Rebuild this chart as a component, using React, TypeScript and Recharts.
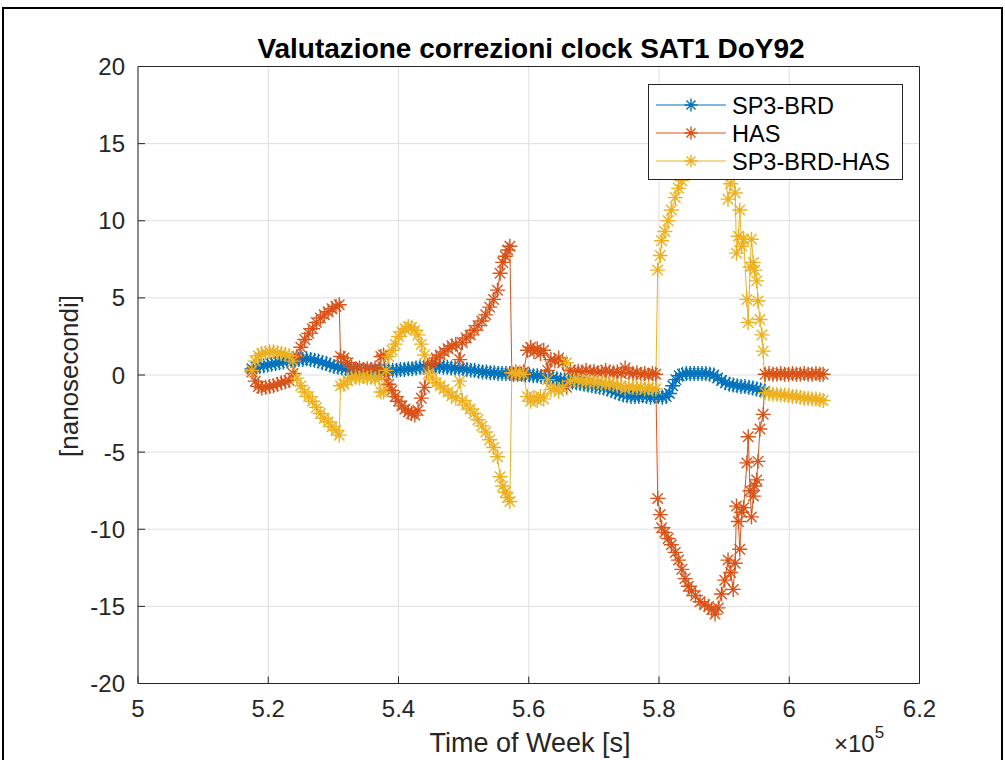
import React from 'react';
import { LineChart, Line, XAxis, YAxis, CartesianGrid, Legend } from 'recharts';

const TITLE = 'Valutazione correzioni clock SAT1 DoY92';
const X_LABEL = 'Time of Week [s]';
const Y_LABEL = '[nanosecondi]';
const X_TICKS = [500000, 520000, 540000, 560000, 580000, 600000, 620000];
const X_TICK_LABELS = ['5', '5.2', '5.4', '5.6', '5.8', '6', '6.2'];
const Y_TICKS = [-20, -15, -10, -5, 0, 5, 10, 15, 20];
const SERIES_NAMES = ['SP3-BRD', 'HAS', 'SP3-BRD-HAS'];
const COLORS = ['#0072BD', '#D95319', '#EDB120'];

// [time of week in thousands of seconds, nanoseconds]
const SP3_BRD: [number, number][] = [
  [517.5, 0.4], [518.1, 0.5], [518.7, 0.55], [519.3, 0.6], [519.9, 0.65], [520.5, 0.7], [521.1, 0.75], [521.7, 0.8],
  [522.3, 0.85], [522.9, 0.9], [523.5, 0.95], [524.1, 0.95], [524.7, 1.0], [525.3, 1.0], [525.9, 1.05], [526.5, 1.0],
  [527.1, 0.95], [527.7, 0.9], [528.3, 0.8], [528.9, 0.75], [529.5, 0.65], [530.1, 0.55], [530.7, 0.5], [531.3, 0.45],
  [531.9, 0.4], [532.5, 0.35], [533.1, 0.3], [533.7, 0.3], [534.3, 0.25], [534.9, 0.25], [535.5, 0.2], [536.1, 0.2],
  [536.7, 0.25], [537.3, 0.25], [537.9, 0.3], [538.5, 0.3], [539.1, 0.3], [539.7, 0.3], [540.3, 0.35], [540.9, 0.35],
  [541.5, 0.4], [542.1, 0.4], [542.7, 0.45], [543.3, 0.5], [543.9, 0.5], [544.5, 0.55], [545.1, 0.55], [545.7, 0.55],
  [546.3, 0.55], [546.9, 0.5], [547.5, 0.5], [548.1, 0.45], [548.7, 0.45], [549.3, 0.4], [549.9, 0.4], [550.5, 0.35],
  [551.1, 0.3], [551.7, 0.3], [552.3, 0.25], [552.9, 0.2], [553.5, 0.2], [554.1, 0.15], [554.7, 0.15], [555.3, 0.1],
  [555.9, 0.1], [556.5, 0.1], [557.1, 0.1], [557.7, 0.05], [558.3, 0.05], [558.9, 0.05], [559.5, 0.0], [560.1, 0.0],
  [560.7, -0.05], [561.3, -0.05], [561.9, -0.1], [562.5, -0.1], [563.1, -0.15], [563.7, -0.2], [564.3, -0.25], [564.9, -0.3],
  [565.5, -0.35], [566.1, -0.4], [566.7, -0.45], [567.3, -0.5], [567.9, -0.55], [568.5, -0.6], [569.1, -0.65], [569.7, -0.7],
  [570.3, -0.75], [570.9, -0.8], [571.5, -0.85], [572.1, -0.9], [572.7, -1.0], [573.3, -1.1], [573.9, -1.2], [574.5, -1.3],
  [575.1, -1.35], [575.7, -1.4], [576.3, -1.4], [576.9, -1.4], [577.5, -1.35], [578.1, -1.4], [578.7, -1.45], [579.3, -1.4],
  [579.9, -1.4], [580.5, -1.45], [581.1, -1.4], [581.6, -1.2], [582.1, -0.7], [582.6, -0.3], [583.1, -0.05], [583.6, 0.05],
  [584.2, 0.1], [584.8, 0.1], [585.4, 0.1], [586.0, 0.1], [586.6, 0.1], [587.2, 0.1], [587.8, 0.05], [588.4, 0.0],
  [589.0, -0.2], [589.6, -0.35], [590.2, -0.5], [590.8, -0.6], [591.4, -0.65], [592.0, -0.7], [592.6, -0.75], [593.2, -0.75],
  [593.8, -0.8], [594.4, -0.85], [595.0, -0.9], [595.6, -0.95], [596.2, -1.05],
];

const HAS: [number, number][] = [
  [517.5, 0.2], [518.0, -0.4], [518.5, -0.75], [519.0, -0.85], [519.6, -0.8], [520.2, -0.75], [520.8, -0.7], [521.4, -0.6],
  [522.0, -0.5], [522.6, -0.45], [523.2, -0.35], [523.8, 0.1], [524.4, 1.2], [525.0, 1.8], [525.6, 2.3], [526.2, 2.7],
  [526.8, 3.0], [527.4, 3.4], [528.0, 3.7], [528.6, 3.9], [529.2, 4.1], [529.8, 4.3], [530.4, 4.45], [530.9, 4.55],
  [531.1, 1.2], [531.6, 1.1], [532.2, 0.8], [532.8, 0.5], [533.4, 0.4], [534.0, 0.45], [534.6, 0.35], [535.2, 0.4],
  [535.8, 0.35], [536.4, 0.45], [537.0, 0.4], [537.3, 1.2], [537.7, 1.3], [538.1, 0.0], [538.5, -0.6], [539.0, -1.0],
  [539.5, -1.4], [540.0, -1.7], [540.5, -2.0], [541.0, -2.2], [541.5, -2.4], [542.0, -2.5], [542.5, -2.6], [543.0, -2.3],
  [543.5, -1.5], [544.0, -0.8], [544.6, 0.5], [545.2, 0.8], [545.8, 1.1], [546.4, 1.3], [547.0, 1.5], [547.6, 1.7],
  [548.2, 1.9], [548.8, 2.0], [549.4, 1.0], [549.8, 2.1], [550.4, 2.4], [551.0, 2.6], [551.6, 2.9], [552.2, 3.2],
  [552.8, 3.5], [553.4, 3.9], [554.0, 4.4], [554.6, 4.9], [555.2, 5.5], [555.6, 6.6], [556.0, 7.3], [556.4, 7.7],
  [556.8, 8.1], [557.1, 8.35], [557.4, 0.1], [558.0, 0.2], [558.6, 0.1], [559.2, 0.2], [559.8, 1.6], [560.3, 1.8],
  [560.8, 1.5], [561.3, 1.7], [561.8, 1.4], [562.3, 1.6], [562.9, 0.3], [563.4, 1.0], [564.0, 0.9], [564.6, 1.1],
  [565.2, 0.8], [565.8, -0.8], [566.4, 0.3], [567.0, 0.2], [567.6, 0.25], [568.2, 0.2], [568.8, 0.3], [569.4, 0.2],
  [570.0, 0.25], [570.6, 0.15], [571.2, 0.2], [571.8, 0.3], [572.4, 0.2], [573.0, 0.15], [573.6, 0.2], [574.2, 0.1],
  [574.8, 0.45], [575.4, 0.15], [576.0, 0.1], [576.6, 0.15], [577.2, 0.05], [577.8, 0.1], [578.4, 0.0], [579.0, 0.1],
  [579.5, 0.05], [579.8, -8.0], [580.2, -9.05], [580.4, -9.9], [580.9, -10.2], [581.4, -10.6], [581.9, -11.0], [582.5, -11.5],
  [583.0, -12.0], [583.5, -12.6], [584.0, -13.2], [584.5, -13.7], [585.0, -14.0], [585.6, -14.3], [586.3, -14.7], [587.0, -14.9],
  [587.6, -15.0], [588.1, -15.2], [588.6, -15.5], [589.1, -15.1], [589.6, -14.2], [590.1, -13.3], [590.6, -12.0], [591.0, -12.8],
  [591.4, -13.9], [591.7, -12.2], [591.9, -8.5], [592.2, -9.5], [592.4, -11.3], [592.7, -8.9], [593.0, -8.6], [593.5, -5.7],
  [593.7, -4.0], [594.0, -7.5], [594.2, -9.2], [594.5, -7.85], [594.7, -7.2], [595.0, -6.8], [595.2, -5.6], [595.5, -3.5],
  [596.0, -2.55], [596.3, 0.05], [596.9, 0.1], [597.5, 0.05], [598.1, 0.05], [598.7, 0.1], [599.3, 0.05], [599.9, 0.05],
  [600.5, 0.1], [601.1, 0.05], [601.7, 0.05], [602.3, 0.1], [602.9, 0.05], [603.5, 0.05], [604.1, 0.1], [604.7, 0.05],
  [605.2, 0.05],
];

const SP3_BRD_HAS: [number, number][] = [
  [517.5, 0.3], [518.0, 0.9], [518.5, 1.25], [519.0, 1.4], [519.6, 1.45], [520.2, 1.5], [520.8, 1.5], [521.4, 1.45],
  [522.0, 1.4], [522.6, 1.35], [523.2, 1.25], [523.8, 0.9], [524.4, -0.2], [525.0, -0.7], [525.6, -1.1], [526.2, -1.4],
  [526.8, -1.7], [527.4, -2.1], [528.0, -2.5], [528.6, -2.8], [529.2, -3.05], [529.8, -3.35], [530.4, -3.6], [530.9, -3.9],
  [531.1, -0.7], [531.6, -0.6], [532.2, -0.35], [532.8, -0.2], [533.4, -0.15], [534.0, -0.2], [534.6, -0.1], [535.2, -0.2],
  [535.8, -0.15], [536.4, -0.25], [537.0, -0.2], [537.3, -1.1], [537.7, -1.1], [538.1, 0.3], [538.5, 1.2], [539.0, 1.6],
  [539.5, 2.0], [540.0, 2.5], [540.5, 2.8], [541.0, 3.0], [541.5, 3.15], [542.0, 3.1], [542.5, 2.9], [543.0, 2.6],
  [543.5, 2.0], [544.0, 1.3], [544.6, 0.1], [545.2, -0.2], [545.8, -0.5], [546.4, -0.7], [547.0, -0.9], [547.6, -1.1],
  [548.2, -1.35], [548.8, -1.5], [549.4, -0.4], [549.8, -1.65], [550.4, -1.95], [551.0, -2.2], [551.6, -2.5], [552.2, -2.9],
  [552.8, -3.3], [553.4, -3.7], [554.0, -4.2], [554.6, -4.7], [555.2, -5.3], [555.6, -6.6], [556.0, -7.2], [556.4, -7.6],
  [556.8, -7.95], [557.1, -8.2], [557.4, 0.15], [558.0, 0.1], [558.6, 0.15], [559.2, 0.05], [559.8, -1.4], [560.3, -1.7],
  [560.8, -1.45], [561.3, -1.65], [561.8, -1.4], [562.3, -1.55], [562.9, -0.3], [563.4, -0.95], [564.0, -0.9], [564.6, -1.05],
  [565.2, -0.8], [565.8, 0.8], [566.4, -0.4], [567.0, -0.3], [567.6, -0.35], [568.2, -0.4], [568.8, -0.45], [569.4, -0.4],
  [570.0, -0.5], [570.6, -0.45], [571.2, -0.55], [571.8, -0.6], [572.4, -0.55], [573.0, -0.6], [573.6, -0.7], [574.2, -0.7],
  [574.8, -0.9], [575.4, -0.75], [576.0, -0.8], [576.6, -0.85], [577.2, -0.8], [577.8, -0.9], [578.4, -0.85], [579.0, -0.9],
  [579.5, -0.9], [579.8, 6.8], [580.2, 7.75], [580.4, 8.7], [580.9, 9.3], [581.4, 10.0], [581.9, 10.7], [582.5, 11.5],
  [583.0, 12.1], [583.5, 12.6], [584.0, 13.2], [584.5, 13.7], [585.0, 14.0], [585.6, 14.3], [586.3, 14.7], [587.0, 14.9],
  [587.6, 15.0], [588.1, 15.2], [588.6, 15.5], [589.1, 15.1], [589.6, 14.2], [590.1, 13.3], [590.6, 11.4], [591.0, 12.4],
  [591.4, 13.3], [591.7, 11.8], [591.9, 7.9], [592.2, 9.0], [592.4, 10.7], [592.7, 8.35], [593.0, 8.8], [593.5, 4.9],
  [593.7, 3.4], [594.0, 7.0], [594.2, 8.8], [594.5, 7.3], [594.7, 6.8], [595.0, 6.1], [595.2, 4.8], [595.5, 3.6],
  [595.8, 2.6], [596.0, 1.55], [596.3, -1.15], [596.9, -1.2], [597.5, -1.25], [598.1, -1.25], [598.7, -1.3], [599.3, -1.3],
  [599.9, -1.35], [600.5, -1.4], [601.1, -1.4], [601.7, -1.45], [602.3, -1.5], [602.9, -1.5], [603.5, -1.55], [604.1, -1.55],
  [604.7, -1.6], [605.2, -1.65],
];

const SERIES = [SP3_BRD, HAS, SP3_BRD_HAS];

const FONT = '"Liberation Sans", Arial, Helvetica, sans-serif';
const AX = '#262626';
const TICK_LEN = 7;
const X_TICK_MARGIN = 16;
const Y_TICK_MARGIN = 13;

const toRows = (pts: [number, number][]) => pts.map(([t, v]) => ({ t: t * 1000, v }));

function Star({ cx, cy, color, r = 7.5 }: { cx: number; cy: number; color: string; r?: number }) {
  if (cx == null || cy == null || isNaN(cx) || isNaN(cy)) return null;
  const d = r * 0.7;
  return (
    <path
      d={`M${cx - r},${cy}H${cx + r}M${cx},${cy - r}V${cy + r}M${cx - d},${cy - d}L${cx + d},${cy + d}M${cx - d},${cy + d}L${cx + d},${cy - d}`}
      stroke={color}
      strokeWidth={1.4}
      fill="none"
    />
  );
}

function BottomTick(props: any) {
  const { x, y, payload } = props;
  const i = X_TICKS.indexOf(payload.value);
  const axisY = y - X_TICK_MARGIN;
  return (
    <g>
      <line x1={x} x2={x} y1={axisY} y2={axisY - TICK_LEN} stroke={AX} strokeWidth={1} />
      <text x={x} y={axisY + 33} textAnchor="middle" fontSize={24} fill={AX} fontFamily={FONT}>
        {X_TICK_LABELS[i]}
      </text>
    </g>
  );
}

function TopTick(props: any) {
  const { x, y } = props;
  return <line x1={x} x2={x} y1={y} y2={y + TICK_LEN} stroke={AX} strokeWidth={1} />;
}

function LeftTick(props: any) {
  const { x, y, payload } = props;
  const axisX = x + Y_TICK_MARGIN;
  return (
    <g>
      <line x1={axisX} x2={axisX + TICK_LEN} y1={y} y2={y} stroke={AX} strokeWidth={1} />
      <text x={x} y={y + 8.5} textAnchor="end" fontSize={24} fill={AX} fontFamily={FONT}>
        {String(payload.value)}
      </text>
    </g>
  );
}

function RightTick(props: any) {
  const { x, y } = props;
  return <line x1={x} x2={x - TICK_LEN} y1={y} y2={y} stroke={AX} strokeWidth={1} />;
}

const XLabel = () => (
  <g>
    <text x={530} y={752} textAnchor="middle" fontSize={27} fill={AX} fontFamily={FONT}>
      {X_LABEL}
    </text>
    <text x={834} y={752} fontSize={24} fill={AX} fontFamily={FONT}>
      ×10
      <tspan dy={-14} fontSize={17}>5</tspan>
    </text>
  </g>
);

const YLabel = () => (
  <text
    transform="translate(78,376) rotate(-90)"
    x={0}
    y={0}
    textAnchor="middle"
    fontSize={26}
    fill={AX}
    fontFamily={FONT}
  >
    {Y_LABEL}
  </text>
);

const TitleLabel = () => (
  <text x={531} y={58} textAnchor="middle" fontSize={28} fontWeight="bold" fill="#000" fontFamily={FONT}>
    {TITLE}
  </text>
);

function LegendBox() {
  return (
    <svg width={256} height={97} style={{ display: 'block' }}>
      <rect x={0.5} y={0.5} width={254} height={95} fill="#fff" stroke={AX} strokeWidth={1} />
      {SERIES_NAMES.map((n, i) => {
        const cy = 21 + i * 28;
        return (
          <g key={n}>
            <line x1={8} x2={78} y1={cy} y2={cy} stroke={COLORS[i]} strokeWidth={1} />
            <Star cx={43} cy={cy} color={COLORS[i]} r={6.5} />
            <text x={84} y={cy + 8.5} fontSize={23.5} fill="#000" fontFamily={FONT}>
              {n}
            </text>
          </g>
        );
      })}
    </svg>
  );
}

export default function App() {
  return (
    <div style={{ position: 'absolute', left: 0, top: 0, width: 1005, height: 760, background: '#fff', overflow: 'hidden' }}>
      <div
        style={{
          position: 'absolute',
          left: 2,
          top: 7,
          width: 1001,
          height: 800,
          border: '2px solid #000',
          boxSizing: 'border-box',
        }}
      />
      <div style={{ position: 'absolute', left: 0, top: 0 }}>
        <LineChart width={1005} height={760} margin={{ top: 56.5, right: 75.5, bottom: 16.5, left: 58 }}>
          <CartesianGrid stroke="#dedede" strokeWidth={1} />
          <XAxis
            dataKey="t"
            type="number"
            domain={[500000, 620000]}
            ticks={X_TICKS}
            interval={0}
            height={60}
            tickSize={0}
            tickMargin={X_TICK_MARGIN}
            tickLine={false}
            axisLine={{ stroke: AX }}
            tick={BottomTick}
            label={XLabel}
          />
          <XAxis
            xAxisId="top"
            orientation="top"
            type="number"
            domain={[500000, 620000]}
            ticks={X_TICKS}
            interval={0}
            height={10}
            tickSize={0}
            tickMargin={0}
            tickLine={false}
            axisLine={{ stroke: AX }}
            tick={TopTick}
            label={TitleLabel}
          />
          <YAxis
            type="number"
            domain={[-20, 20]}
            ticks={Y_TICKS}
            interval={0}
            width={80}
            tickSize={0}
            tickMargin={Y_TICK_MARGIN}
            tickLine={false}
            axisLine={{ stroke: AX }}
            tick={LeftTick}
            label={YLabel}
          />
          <YAxis
            yAxisId="right"
            orientation="right"
            type="number"
            domain={[-20, 20]}
            ticks={Y_TICKS}
            interval={0}
            width={10}
            tickSize={0}
            tickMargin={0}
            tickLine={false}
            axisLine={{ stroke: AX }}
            tick={RightTick}
          />
          {SERIES.map((s, i) => (
            <Line
              key={SERIES_NAMES[i]}
              name={SERIES_NAMES[i]}
              data={toRows(s)}
              dataKey="v"
              type="linear"
              stroke={COLORS[i]}
              strokeWidth={1}
              isAnimationActive={false}
              activeDot={false}
              dot={(p: any) => <Star key={`${i}-${p.index}`} cx={p.cx} cy={p.cy} color={COLORS[i]} />}
            />
          ))}
          <Legend
            content={LegendBox}
            layout="horizontal"
            verticalAlign="middle"
            align="center"
            wrapperStyle={{ position: 'absolute', left: 648, top: 84, width: 256, height: 97 }}
          />
        </LineChart>
      </div>
    </div>
  );
}
